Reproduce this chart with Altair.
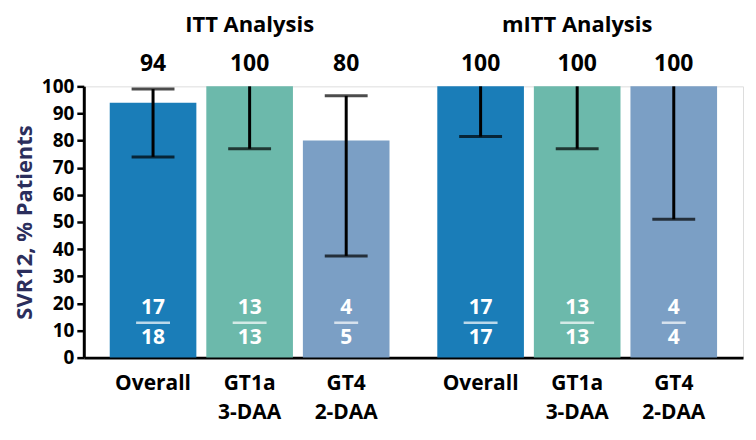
import altair as alt
import pandas as pd

analyses = ["ITT", "ITT", "ITT", "mITT", "mITT", "mITT"]
subgroups = ["Overall", "GT1a\n3-DAA", "GT4\n2-DAA", "Overall", "GT1a\n3-DAA", "GT4\n2-DAA"]
svr = [94, 100, 80, 100, 100, 100]
ci_low = [74, 77, 37.5, 81.5, 77, 51]
ci_high = [99, 100, 96.5, 100, 100, 100]
numerators = [17, 13, 4, 17, 13, 4]
denominators = [18, 13, 5, 17, 13, 4]
value_labels = ["94", "100", "80", "100", "100", "100"]
y_ticks = [0, 10, 20, 30, 40, 50, 60, 70, 80, 90, 100]

group_names = ["ITT", "mITT"]
group_titles = ["ITT Analysis", "mITT Analysis"]

sub_order = ["Overall", "GT1a\n3-DAA", "GT4\n2-DAA"]
colors = ["#1a7db8", "#6cb9ab", "#7b9fc5"]

FONT = "Open Sans"

df = pd.DataFrame({
    "analysis": analyses,
    "sub": subgroups,
    "svr": svr,
    "lo": ci_low,
    "hi": ci_high,
    "num": [str(n) for n in numerators],
    "den": [str(d) for d in denominators],
    "label": value_labels,
})
df["fracw"] = [34 if max(len(str(n)), len(str(d))) > 1 else 24 for n, d in zip(numerators, denominators)]
tdf = pd.DataFrame({"analysis": group_names, "title": group_titles})

xaxis = alt.Axis(labels=False, ticks=False, title=None, domain=True,
                 domainColor="black", domainWidth=3)
xenc = alt.X("analysis:N", sort=group_names,
             scale=alt.Scale(paddingInner=0.1155, paddingOuter=0.064), axis=xaxis)
xoff = alt.XOffset("sub:N", sort=sub_order,
                   scale=alt.Scale(paddingInner=0.103, paddingOuter=0.0515))

yscale = alt.Scale(domain=[0, 100], nice=False)
yaxis = alt.Axis(values=y_ticks, title="SVR12, % Patients",
                 titleFont=FONT, titleFontSize=22, titleFontWeight="bold",
                 titleColor="#2b2e5c", titlePadding=5,
                 labelFont=FONT, labelFontSize=19, labelFontWeight="bold",
                 labelColor="black", labelPadding=3, labelOverlap=False,
                 tickSize=7, tickWidth=2.5, tickColor="black",
                 domainColor="black", domainWidth=3, grid=False)

def Yf(field):
    return alt.Y(field, scale=yscale, axis=yaxis)

def Yd(v):
    return alt.YDatum(v, scale=yscale, axis=yaxis)

base = alt.Chart(df).encode(x=xenc, xOffset=xoff)

bars = base.mark_bar().encode(
    y=Yf("svr:Q"),
    color=alt.Color("sub:N", sort=sub_order,
                    scale=alt.Scale(domain=sub_order, range=colors), legend=None),
)

err = base.mark_rule(color="black", strokeWidth=3).encode(y=Yf("lo:Q"), y2="hi:Q")
cap_lo = base.mark_tick(color="black", thickness=3, size=43).encode(y=Yf("lo:Q"))
cap_hi = base.mark_tick(color="black", thickness=3, size=43).encode(
    y=Yf("hi:Q")).transform_filter("datum.hi < 100")

vals = base.mark_text(font=FONT, fontSize=23, fontWeight="bold", color="black",
                      baseline="middle", dy=-22).encode(y=Yd(100), text="label:N")

num_t = base.mark_text(font=FONT, fontSize=21, fontWeight="bold", color="white",
                       baseline="middle", dy=-50).encode(y=Yd(0), text="num:N")
den_t = base.mark_text(font=FONT, fontSize=21, fontWeight="bold", color="white",
                       baseline="middle", dy=-20).encode(y=Yd(0), text="den:N")
frac_line = base.mark_tick(color="white", thickness=2.5, yOffset=-35).encode(
    y=Yd(0), size=alt.Size("fracw:Q", scale=None))

xlab = base.mark_text(font=FONT, fontSize=21, fontWeight="bold", color="black",
                      baseline="top", dy=15, lineBreak="\n", lineHeight=30).encode(
    y=Yd(0), text="sub:N")

titles = alt.Chart(tdf).mark_text(font=FONT, fontSize=22, fontWeight="bold",
                                  color="black", baseline="middle", dy=-62).encode(
    x=xenc, y=Yd(100), text="title:N")

chart = alt.layer(bars, err, cap_lo, cap_hi, vals, num_t, den_t, frac_line, xlab, titles).properties(
    width=661, height=272, padding={"left": 5, "top": 5, "right": 5, "bottom": 5}
).configure_view(stroke=None).configure(background="white")

chart.save("out.html", embed_options={"renderer": "svg", "actions": False})
